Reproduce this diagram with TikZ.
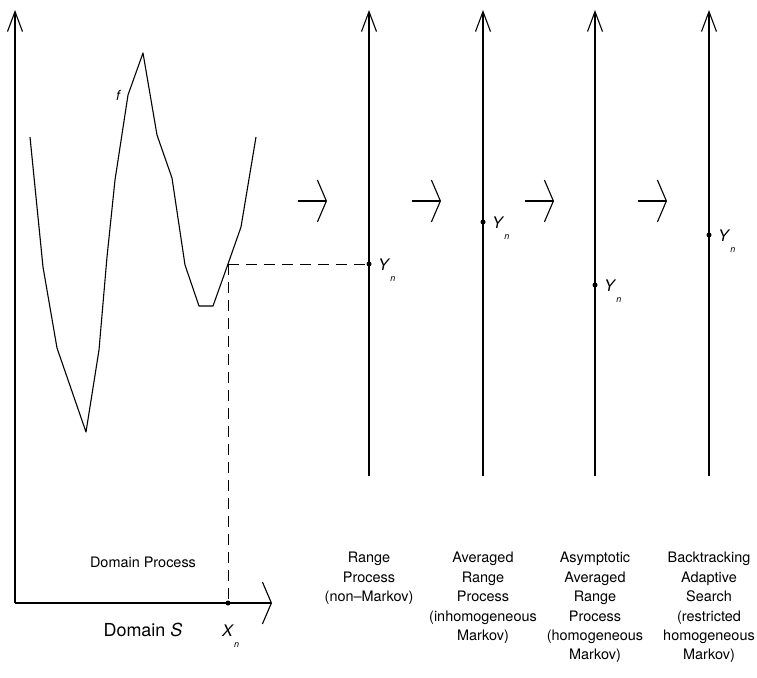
\documentclass[tikz,border=0pt]{standalone}
\usepackage{fontspec}
\setmainfont{TeX Gyre Heros}
\usetikzlibrary{positioning, arrows.meta, calc}

\tikzset{
  axis/.style={line width=1.1bp, -{Straight Barb[length=20bp, width=15bp]}},
  flatarrow/.style={line width=1.1bp, -{Straight Barb[length=9bp, width=42bp]}},
  dot/.style={circle, fill, inner sep=0pt, minimum size=5bp},
  dashline/.style={line width=1bp, dash pattern=on 11bp off 7bp},
  caption/.style={font=\fontsize{14.5}{19.5}\selectfont, align=center, anchor=north, inner sep=0pt},
  sublabel/.style={font=\fontsize{16}{16}\selectfont, anchor=base west, inner sep=0pt},
}
\newcommand{\lowsub}[1]{\raisebox{-11bp}{\fontsize{9}{9}\selectfont\itshape #1}}

\begin{document}
\begin{tikzpicture}[x=1bp, y=-1bp, line join=round]
    \useasboundingbox (0,0) rectangle (757,678);

    % Domain axes
    \coordinate (orig) at (15,603);
    \draw[axis] (orig) -- (15,10);
    \draw[flatarrow] (orig) -- (272,603);

    % The function f
    \draw[line width=1.1bp]
        (30,137) -- (43,267) -- (57,348) -- (86,432) -- (99,350)
        -- (107,257) -- (115,180) -- (128,95) -- (143,53) -- (157,135)
        -- (172,178) -- (185,265) -- (199,306) -- (213,306)
        -- (228,264) coordinate (fx) -- (241,227) -- (256,137);
    \node[font=\fontsize{14}{14}\selectfont\itshape, anchor=base] (flabel) at (118,101) {f};

    % Sample point X_n
    \node[dot] (xn) at (228,603) {};
    \node[sublabel] (xnlabel) at (222,636) {\textit{X}\lowsub{n}};
    \node[font=\fontsize{18}{18}\selectfont, anchor=base] (domain) at (143,636) {Domain \textit{S}};
    \node[font=\fontsize{14.5}{14.5}\selectfont, anchor=base] (domproc) at (143,567) {Domain Process};

    % Range axes with Y_n
    \foreach \x/\y/\nm in {369/264/a, 483/222/b, 595/285/c, 709/235/d} {
        \draw[axis] (\x,476) -- (\x,10);
        \node[dot] (y\nm) at (\x,\y) {};
        \node[sublabel] (lab\nm) at ($(y\nm)+(9,6)$) {\textit{Y}\lowsub{n}};
    }

    % Dashed projection
    \draw[dashline] (fx) -- (ya);
    \draw[dashline] (fx) -- (xn);

    % Small arrows between the processes
    \foreach \x in {298, 412, 525, 638} {
        \draw[flatarrow] (\x,201) -- ++(29,0);
    }

    % Captions
    \node[caption] (capa) at (369,552) {Range\\Process\\(non--Markov)};
    \node[caption] (capb) at (483,552) {Averaged\\Range\\Process\\(inhomogeneous\\Markov)};
    \node[caption] (capc) at (595,552) {Asymptotic\\Averaged\\Range\\Process\\(homogeneous\\Markov)};
    \node[caption] (capd) at (709,552) {Backtracking\\Adaptive\\Search\\(restricted\\homogeneous\\Markov)};
\end{tikzpicture}
\end{document}
